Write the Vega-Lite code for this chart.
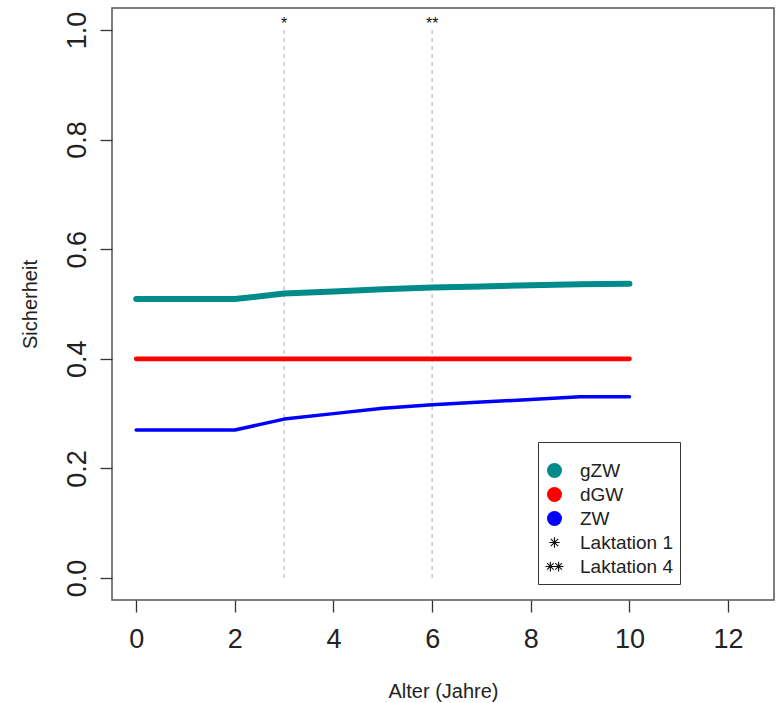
{
  "$schema": "https://vega.github.io/schema/vega-lite/v6.json",
  "width": 662,
  "height": 592,
  "autosize": {"type": "none"},
  "padding": {"left": 112, "top": 8, "right": 4, "bottom": 103},
  "background": "white",
  "config": {
    "view": {"stroke": "#555", "strokeWidth": 1.5},
    "font": "Liberation Sans",
    "axis": {
      "grid": false,
      "domain": false,
      "tickColor": "#333",
      "tickWidth": 1.3,
      "tickSize": 12,
      "labelColor": "#222",
      "labelFont": "Liberation Sans",
      "labelFontSize": 27,
      "labelFlush": false,
      "labelOverlap": false,
      "titleFont": "Liberation Sans",
      "titleFontSize": 20,
      "titleFontWeight": "normal",
      "titleColor": "#222"
    },
    "legend": {
      "orient": "none",
      "legendX": 426,
      "legendY": 434,
      "titleFontSize": 7,
      "titlePadding": 5,
      "padding": 7,
      "strokeColor": "#333",
      "symbolSize": 225,
      "symbolStrokeWidth": 0,
      "symbolOpacity": 1,
      "labelFontSize": 19,
      "labelFont": "Liberation Sans",
      "labelColor": "#222",
      "labelOffset": 16,
      "rowPadding": 4
    }
  },
  "layer": [
    {
      "data": {"values": [{"age": 3, "mark": "*"}, {"age": 6, "mark": "**"}]},
      "mark": {"type": "rule", "color": "#bbbbbb", "strokeWidth": 1.2, "strokeDash": [4, 4]},
      "encoding": {
        "x": {"field": "age", "type": "quantitative", "scale": {"domain": [-0.49, 12.93], "nice": false, "zero": false}},
        "y": {"datum": 0, "type": "quantitative", "scale": {"domain": [-0.04, 1.04], "nice": false, "zero": false}},
        "y2": {"datum": 1}
      }
    },
    {
      "data": {"values": [{"age": 3, "mark": "*"}, {"age": 6, "mark": "**"}]},
      "mark": {"type": "text", "fontSize": 16, "baseline": "alphabetic", "align": "center", "color": "#111", "dy": -1},
      "encoding": {
        "x": {"field": "age", "type": "quantitative", "scale": {"domain": [-0.49, 12.93], "nice": false, "zero": false}},
        "y": {"datum": 1, "type": "quantitative", "scale": {"domain": [-0.04, 1.04], "nice": false, "zero": false}},
        "text": {"field": "mark"}
      }
    },
    {
      "data": {"values": [
        {"age": 0, "value": 0.509, "series": "gZW"},
        {"age": 1, "value": 0.509, "series": "gZW"},
        {"age": 2, "value": 0.509, "series": "gZW"},
        {"age": 3, "value": 0.519, "series": "gZW"},
        {"age": 4, "value": 0.523, "series": "gZW"},
        {"age": 5, "value": 0.527, "series": "gZW"},
        {"age": 6, "value": 0.530, "series": "gZW"},
        {"age": 7, "value": 0.532, "series": "gZW"},
        {"age": 8, "value": 0.534, "series": "gZW"},
        {"age": 9, "value": 0.536, "series": "gZW"},
        {"age": 10, "value": 0.537, "series": "gZW"},
        {"age": 0, "value": 0.4, "series": "dGW"},
        {"age": 1, "value": 0.4, "series": "dGW"},
        {"age": 2, "value": 0.4, "series": "dGW"},
        {"age": 3, "value": 0.4, "series": "dGW"},
        {"age": 4, "value": 0.4, "series": "dGW"},
        {"age": 5, "value": 0.4, "series": "dGW"},
        {"age": 6, "value": 0.4, "series": "dGW"},
        {"age": 7, "value": 0.4, "series": "dGW"},
        {"age": 8, "value": 0.4, "series": "dGW"},
        {"age": 9, "value": 0.4, "series": "dGW"},
        {"age": 10, "value": 0.4, "series": "dGW"},
        {"age": 0, "value": 0.27, "series": "ZW"},
        {"age": 1, "value": 0.27, "series": "ZW"},
        {"age": 2, "value": 0.27, "series": "ZW"},
        {"age": 3, "value": 0.29, "series": "ZW"},
        {"age": 4, "value": 0.30, "series": "ZW"},
        {"age": 5, "value": 0.31, "series": "ZW"},
        {"age": 6, "value": 0.316, "series": "ZW"},
        {"age": 7, "value": 0.321, "series": "ZW"},
        {"age": 8, "value": 0.326, "series": "ZW"},
        {"age": 9, "value": 0.331, "series": "ZW"},
        {"age": 10, "value": 0.331, "series": "ZW"}
      ]},
      "mark": {"type": "line", "strokeCap": "round", "strokeJoin": "round"},
      "encoding": {
        "x": {
          "field": "age", "type": "quantitative",
          "scale": {"domain": [-0.49, 12.93], "nice": false, "zero": false},
          "axis": {
            "values": [0, 2, 4, 6, 8, 10, 12],
            "format": "d",
            "labelBaseline": "alphabetic",
            "labelPadding": 35,
            "title": "Alter (Jahre)",
            "titleX": 331,
            "titleY": 97,
            "titleAlign": "center",
            "titleBaseline": "alphabetic",
            "titleAnchor": null
          }
        },
        "y": {
          "field": "value", "type": "quantitative",
          "scale": {"domain": [-0.04, 1.04], "nice": false, "zero": false},
          "axis": {
            "values": [0, 0.2, 0.4, 0.6, 0.8, 1.0],
            "format": ".1f",
            "labelAngle": 270,
            "labelAlign": "center",
            "labelBaseline": "alphabetic",
            "labelPadding": 15,
            "title": "Sicherheit",
            "titleAngle": 270,
            "titleX": -76,
            "titleY": 296,
            "titleAlign": "center",
            "titleBaseline": "alphabetic",
            "titleAnchor": null
          }
        },
        "color": {
          "field": "series", "type": "nominal",
          "scale": {"domain": ["gZW", "dGW", "ZW"], "range": ["#008B8B", "#FF0000", "#0000FF"]},
          "legend": null
        },
        "strokeWidth": {
          "field": "series", "type": "nominal",
          "scale": {"domain": ["gZW", "dGW", "ZW"], "range": [6, 3.5, 3]},
          "legend": null
        }
      }
    },
    {
      "data": {"values": [
        {"item": "gZW"},
        {"item": "dGW"},
        {"item": "\u00a0ZW"},
        {"item": "Laktation 1"},
        {"item": "Laktation 4"}
      ]},
      "mark": {"type": "point", "filled": true, "opacity": 0, "size": 225},
      "encoding": {
        "x": {"datum": 0, "type": "quantitative", "scale": {"domain": [-0.49, 12.93], "nice": false, "zero": false}},
        "y": {"datum": 0, "type": "quantitative", "scale": {"domain": [-0.04, 1.04], "nice": false, "zero": false}},
        "color": {
          "field": "item", "type": "nominal",
          "scale": {"domain": ["gZW", "dGW", "\u00a0ZW", "Laktation 1", "Laktation 4"], "range": ["#008B8B", "#FF0000", "#0000FF", "#111111", "#111111"]},
          "legend": {"title": " ", "labelExpr": "datum.label + '\u00a0\u00a0\u00a0'"}
        },
        "shape": {
          "field": "item", "type": "nominal",
          "scale": {
            "domain": ["gZW", "dGW", "\u00a0ZW", "Laktation 1", "Laktation 4"],
            "range": [
              "circle", "circle", "circle",
              "M-0.075,-0.7H0.075V0.7H-0.075Z M-0.7,-0.075H0.7V0.075H-0.7Z M-0.442,-0.548L0.548,0.442L0.442,0.548L-0.548,-0.442Z M-0.548,0.442L0.442,-0.548L0.548,-0.442L-0.442,0.548Z",
              "M-0.625,-0.65H-0.475V0.65H-0.625Z M-1.2,-0.075H0.1V0.075H-1.2Z M-0.946,-0.514L-0.054,0.378L-0.154,0.478L-1.046,-0.414Z M-1.046,0.378L-0.154,-0.514L-0.054,-0.414L-0.946,0.478Z M0.475,-0.65H0.625V0.65H0.475Z M-0.1,-0.075H1.2V0.075H-0.1Z M0.154,-0.514L1.046,0.378L0.946,0.478L0.054,-0.414Z M0.054,0.378L0.946,-0.514L1.046,-0.414L0.154,0.478Z"
            ]
          },
          "legend": {"title": " ", "labelExpr": "datum.label + '\u00a0\u00a0\u00a0'"}
        }
      }
    }
  ],
  "resolve": {"scale": {"color": "independent", "shape": "independent", "strokeWidth": "independent"}}
}
